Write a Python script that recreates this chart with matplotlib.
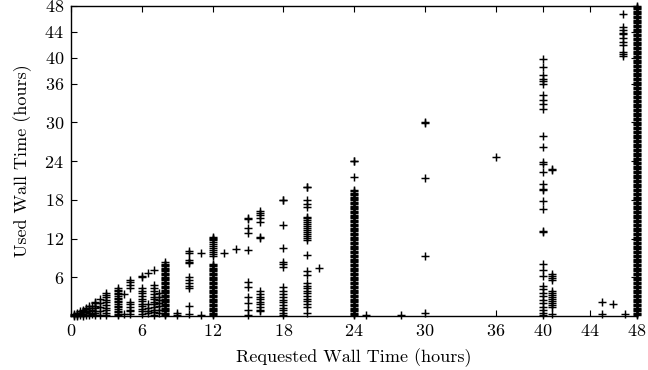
import matplotlib
matplotlib.use("Agg")
import matplotlib.pyplot as plt

plt.rcParams['font.family'] = ['cmr10', 'DejaVu Serif']
plt.rcParams['axes.formatter.use_mathtext'] = True
plt.rcParams['mathtext.fontset'] = 'cm'

# ---------------- data (hours) ----------------
x_ticks = [0, 6, 12, 18, 24, 30, 36, 40, 44, 48]
y_ticks = [6, 12, 18, 24, 30, 36, 40, 44, 48]

# scattered jobs: requested / used (parallel lists)
req_misc = ([0.25] * 3 + [0.5] * 4 + [0.75] * 3 + [1.0] * 5 + [1.25] * 4 + [1.5] * 5 + [1.75] * 3
            + [2.0] * 7 + [2.5] * 5 + [3.0] * 10 + [4.5] * 2 + [5.0] * 10 + [6.0] * 13 + [6.5] * 5
            + [7.0] * 13 + [7.5] * 7 + [9.0] * 2 + [10.0] * 12 + [11.0] * 2 + [13.0] + [14.0]
            + [15.0] * 11 + [16.0] * 16 + [18.0] * 18 + [21.0] + [25.0] + [28.0] + [30.0] * 5
            + [36.0] + [45.0] * 2 + [46.0] + [47.0])
used_misc = [0.05, 0.15, 0.25,
             0.05, 0.2, 0.35, 0.5,
             0.1, 0.4, 0.7,
             0.05, 0.3, 0.55, 0.8, 1.0,
             0.2, 0.6, 1.1, 1.25,
             0.1, 0.4, 0.8, 1.2, 1.5,
             0.3, 0.9, 1.6,
             0.1, 0.4, 0.8, 1.2, 1.6, 2.0, 2.1,
             0.2, 0.7, 1.4, 2.0, 2.7,
             0.1, 0.5, 0.9, 1.3, 1.7, 2.1, 2.5, 2.9, 3.3, 3.6,
             0.3, 3.4,
             0.3, 0.7, 1.0, 1.4, 1.8, 2.2, 4.3, 4.8, 5.2, 5.6,
             0.3, 0.7, 1.1, 1.5, 1.9, 2.3, 2.7, 3.1, 3.5, 3.9, 4.3, 6.1, 6.15,
             0.4, 0.8, 1.3, 1.8, 6.6,
             0.2, 0.6, 1.0, 1.4, 1.8, 2.2, 2.6, 3.0, 3.4, 3.8, 4.3, 4.8, 7.2,
             0.5, 1.0, 1.5, 2.0, 2.5, 3.0, 3.5,
             0.1, 0.5,
             0.3, 1.5, 4.4, 4.7, 5.1, 5.6, 6.1, 8.2, 8.4, 8.7, 9.8, 10.0,
             0.2, 9.7,
             9.7,
             10.4,
             0.2, 0.9, 2.0, 3.0, 4.5, 5.3, 10.2, 12.8, 13.6, 15.0, 15.1,
             0.7, 1.0, 1.4, 1.8, 2.2, 2.6, 3.0, 3.4, 3.8, 12.1, 12.2, 14.6, 15.1, 15.6, 15.9, 16.2,
             0.15, 0.5, 0.9, 1.3, 1.7, 2.1, 2.5, 3.0, 3.4, 3.8, 4.5, 7.6, 8.0, 8.4, 10.5, 14.1, 17.95, 18.0,
             7.4,
             0.2,
             0.2,
             0.4, 9.3, 21.3, 29.95, 30.0,
             24.6,
             0.3, 2.1,
             1.9,
             0.3]

used_req4 = [0.1, 0.35, 0.6, 0.85, 1.1, 1.35, 1.6, 1.85, 2.1, 2.35, 2.6, 2.85,
             3.1, 3.35, 3.6, 3.85, 4.1, 4.35]

used_req8 = [0.1, 0.3, 0.5, 0.7, 0.9, 1.1, 1.3, 1.5, 1.7, 1.9,
             2.1, 2.3, 2.5, 2.7, 2.9, 3.1, 3.3, 3.5, 3.7, 3.9,
             4.1, 4.3, 4.5, 4.7, 4.9, 5.1, 5.3, 5.5, 5.7, 5.9,
             6.1, 6.3, 6.5, 6.7, 6.9, 7.1, 7.3, 7.5, 7.7, 7.9,
             8.1, 8.3]

used_req12 = [0.1, 0.3, 0.5, 0.7, 0.9, 1.1, 1.3, 1.5, 1.7, 1.9,
              2.1, 2.3, 2.5, 2.7, 2.9, 3.1, 3.3, 3.5, 3.7, 3.9,
              4.1, 4.3, 4.5, 4.7, 4.9, 5.1, 5.3, 5.5, 5.7, 5.9,
              6.1, 6.3, 6.5, 6.7, 6.9, 7.1, 7.3, 7.5, 7.7, 7.9,
              8.1, 9.3, 9.6, 9.9, 10.2, 10.5, 10.8, 11.1, 11.4, 11.7,
              12.0, 12.05, 12.2]

used_req20 = [0.4, 1.4, 1.9, 2.3, 2.7, 3.1, 3.5, 3.9, 4.3, 4.7, 5.1, 6.3, 6.9, 9.4,
              11.8, 12.1, 12.4, 12.7, 13.0, 13.3, 13.6, 13.9, 14.2, 14.5, 14.8, 15.1, 15.4,
              16.9, 17.4, 18.0, 19.95, 20.0]

used_req24 = [0.1, 0.3, 0.5, 0.7, 0.9, 1.1, 1.3, 1.5, 1.7, 1.9,
              2.1, 2.3, 2.5, 2.7, 2.9, 3.1, 3.3, 3.5, 3.7, 3.9,
              4.1, 4.3, 4.5, 4.7, 4.9, 5.1, 5.3, 5.5, 5.7, 5.9,
              6.1, 6.3, 6.5, 6.7, 6.9, 7.1, 7.3, 7.5, 7.7, 7.9,
              8.1, 8.3, 8.5, 8.7, 8.9, 9.1, 9.3, 9.5, 9.7, 9.9,
              10.1, 10.3, 10.5, 10.7, 10.9, 11.1, 11.3, 11.5, 11.7, 11.9,
              12.1, 12.3, 12.5, 12.7, 12.9, 13.1, 13.3, 13.5, 13.7, 13.9,
              14.1, 14.3, 14.5, 14.7, 14.9, 15.1, 15.3, 15.5, 15.7, 15.9,
              16.1, 16.3, 16.5, 16.7, 16.9, 17.1, 17.3, 17.5, 17.7, 17.9,
              18.1, 18.3, 18.5, 18.7, 18.9, 19.1, 19.3, 19.5,
              21.6, 23.95, 24.0]

used_req40 = [0.15, 0.4, 0.9, 1.4, 2.0, 2.5, 3.1, 3.6, 4.2, 4.6, 6.2, 7.1, 8.0,
              13.0, 13.2, 16.6, 17.8, 19.5, 19.7, 20.4, 22.3, 23.5, 23.9,
              26.2, 27.8, 32.1, 32.8, 33.5, 34.2, 36.0, 36.4, 36.7, 37.3, 38.6, 39.8]

used_req40_75 = [0.25, 1.4, 1.7, 2.0, 2.3, 2.6, 2.9, 3.2, 3.5, 3.8,
                 5.6, 5.9, 6.2, 6.5, 22.65, 22.7]

used_req46_8 = [40.2, 40.5, 40.9, 42.0, 42.5, 43.0, 43.6, 43.8, 44.3, 44.8, 46.7]

used_req48 = [0.1, 0.3, 0.5, 0.7, 0.9, 1.1, 1.3, 1.5, 1.7, 1.9,
              2.1, 2.3, 2.5, 2.7, 2.9, 3.1, 3.3, 3.5, 3.7, 3.9,
              4.1, 4.3, 4.5, 4.7, 4.9, 5.1, 5.3, 5.5, 5.7, 5.9,
              6.1, 6.3, 6.5, 6.7, 6.9, 7.1, 7.3, 7.5, 7.7, 7.9,
              8.1, 8.3, 8.5, 8.7, 8.9, 9.1, 9.3, 9.5, 9.7, 9.9,
              10.1, 10.3, 10.5, 10.7, 10.9, 11.1, 11.3, 11.5, 11.7, 11.9,
              12.1, 12.3, 12.5, 12.7, 12.9, 13.1, 13.3, 13.5, 13.7, 13.9,
              14.1, 14.3, 14.5, 14.7, 14.9, 15.1, 15.3, 15.5, 15.7, 15.9,
              16.1, 16.3, 16.5, 16.7, 16.9, 17.1, 17.3, 17.5, 17.7, 17.9,
              18.1, 18.3, 18.5, 18.7, 18.9, 19.1, 19.3, 19.5, 19.7, 19.9,
              20.1, 20.3, 20.5, 20.7, 20.9, 21.1, 21.3, 21.5, 21.7, 21.9,
              22.1, 22.3, 22.5, 22.7, 22.9, 23.1, 23.3, 23.5, 23.7, 23.9,
              24.1, 24.3, 24.5, 24.7, 24.9, 25.1, 25.3, 25.5, 25.7, 25.9,
              26.1, 26.3, 26.5, 26.7, 26.9, 27.1, 27.3, 27.5, 27.7, 27.9,
              28.1, 28.3, 28.5, 28.7, 28.9, 29.1, 29.3, 29.5, 29.7, 29.9,
              30.1, 30.3, 30.5, 30.7, 30.9, 31.1, 31.3, 31.5, 31.7, 31.9,
              32.1, 32.3, 32.5, 32.7, 32.9, 33.1, 33.3, 33.5, 33.7, 33.9,
              34.1, 34.3, 34.5, 34.7, 34.9, 35.1, 35.3, 35.5, 35.7, 35.9,
              36.1, 36.3, 36.5, 36.7, 36.9, 37.1, 37.3, 37.5, 37.7, 37.9,
              38.1, 38.3, 38.5, 38.7, 38.9, 39.1, 39.3, 39.5, 39.7, 39.9,
              40.1, 40.3, 40.5, 40.7, 40.9, 41.1, 41.3, 41.5, 41.7, 41.9,
              42.1, 42.3, 42.5, 42.7, 42.9, 43.1, 43.3, 43.5, 43.7, 43.9,
              44.1, 44.3, 44.5, 44.7, 44.9, 45.1, 45.3, 45.5, 45.7, 45.9,
              46.1, 46.3, 46.5, 46.7, 46.9, 47.1, 47.3, 47.5, 47.7, 47.9,
              48.0]

columns = [(4.0, used_req4), (8.0, used_req8), (12.0, used_req12), (20.0, used_req20),
           (24.0, used_req24), (40.0, used_req40), (40.75, used_req40_75),
           (46.8, used_req46_8), (48.0, used_req48)]

# ---------------- plot ----------------
W, H = 648, 370
fig = plt.figure(figsize=(W / 100, H / 100), dpi=100)
ax = fig.add_axes([71 / W, 54 / H, 566 / W, 310 / H])

style = dict(linestyle='none', marker='+', markersize=5.5, markeredgewidth=1.05,
             color='black', clip_on=False)
ax.plot(req_misc, used_misc, **style)
for req, used in columns:
    ax.plot([req] * len(used), used, **style)

ax.set_xlim(0, 48)
ax.set_ylim(0, 48)
ax.set_xticks(x_ticks)
ax.set_yticks(y_ticks)
ax.tick_params(direction='in', length=4, width=0.8, top=True, right=True,
               labelsize=13, colors='black')
ax.tick_params(axis='x', pad=5)
ax.tick_params(axis='y', pad=5)
for s in ax.spines.values():
    s.set_linewidth(1.0)

ax.set_xlabel('Requested Wall Time (hours)', fontsize=13, labelpad=7)
ax.set_ylabel('Used Wall Time (hours)', fontsize=13, labelpad=9)

fig.savefig('out.png', dpi=100)
